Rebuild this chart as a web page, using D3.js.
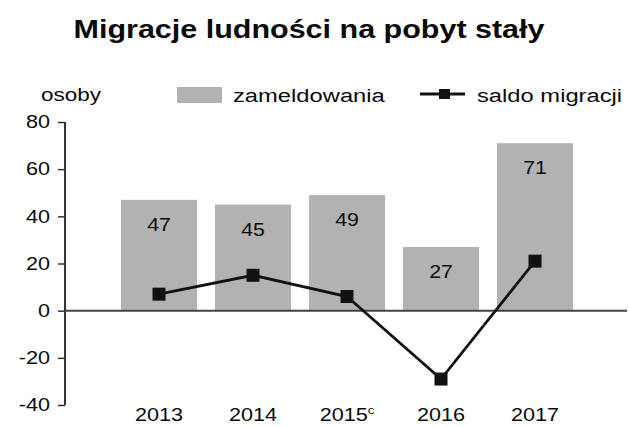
<!DOCTYPE html>
<html>
<head>
<meta charset="utf-8">
<script src="https://cdn.jsdelivr.net/npm/d3@7"></script>
<style>
  body { margin: 0; background: #fff; }
  text { font-family: "Liberation Sans", Arial, sans-serif; fill: #0a0a0a; }
</style>
</head>
<body>
<div id="chart"></div>
<script>
var years = ["2013", "2014", "2015", "2016", "2017"];
var zameldowania = [47, 45, 49, 27, 71];
var saldo = [7, 15, 6, -29, 21];
var yTicks = [80, 60, 40, 20, 0, -20, -40];

var width = 629, height = 427;
var stretch = 1.2; // the source text is a bit wider than Arial

var svg = d3.select("#chart").append("svg")
  .attr("width", width)
  .attr("height", height)

// text placed in a group so it can be widened a little
function label(px, py, str, size, sx, anchor, weight) {
  var g = svg.append("g")
    .attr("transform", "translate(" + px + "," + py + ") scale(" + sx + ",1)")
  return g.append("text")
    .attr("text-anchor", anchor || "start")
    .attr("font-size", size + "px")
    .attr("font-weight", weight || "normal")
    .text(str)
}

// title
label(309, 38, "Migracje ludności na pobyt stały", 25, 1.22, "middle", "bold")

var x = d3.scaleBand()
  .domain(years)
  .range([112, 582])
  .paddingInner(0.19)
  .paddingOuter(0.095)

var y = d3.scaleLinear()
  .domain([-40, 80])
  .range([405, 122])

// bars
svg.selectAll("rect.bar")
  .data(zameldowania)
  .enter()
  .append("rect")
    .attr("class", "bar")
    .attr("x", function(d, i){ return x(years[i]); })
    .attr("y", function(d){ return y(d); })
    .attr("width", x.bandwidth())
    .attr("height", function(d){ return y(0) - y(d); })
    .attr("fill", "#b2b2b2")

// bar labels
zameldowania.forEach(function(d, i) {
  label(x(years[i]) + x.bandwidth() / 2, y(d) + 31, d, 19, 1.12, "middle")
})

// y axis
var yAxis = d3.axisLeft(y)
  .tickValues(yTicks)
  .tickSize(7)
  .tickPadding(8)
  .tickFormat(function(d){ return String(d); })
var gy = svg.append("g")
  .attr("transform", "translate(65,0)")
  .call(yAxis)
gy.select(".domain").attr("stroke", "#333").attr("stroke-width", 2).attr("d", "M0," + y(80) + "V" + y(-40))
gy.selectAll(".tick line").attr("stroke", "#333").attr("stroke-width", 1.5)
gy.selectAll(".tick text")
  .attr("font-size", "18px")
  .attr("font-family", "Liberation Sans, Arial, sans-serif")
  .attr("fill", "#0a0a0a")
  .attr("x", -15 / stretch)
  .attr("transform", "scale(" + stretch + ",1)")

// zero line
svg.append("line")
  .attr("x1", 65)
  .attr("x2", 627)
  .attr("y1", y(0))
  .attr("y2", y(0))
  .attr("stroke", "#444")
  .attr("stroke-width", 2)

// x labels
years.forEach(function(d) {
  var t = label(x(d) + x.bandwidth() / 2, 421, d, 18, stretch, "middle")
  if (d === "2015") {
    t.append("tspan")
      .attr("dy", -7)
      .attr("font-size", "11px")
      .text("c")
  }
})

// saldo line
var line = d3.line()
  .x(function(d, i){ return x(years[i]) + x.bandwidth() / 2; })
  .y(function(d){ return y(d); })

svg.append("path")
  .datum(saldo)
  .attr("d", line)
  .attr("fill", "none")
  .attr("stroke", "#111")
  .attr("stroke-width", 2.8)

svg.selectAll("rect.marker")
  .data(saldo)
  .enter()
  .append("rect")
    .attr("class", "marker")
    .attr("x", function(d, i){ return x(years[i]) + x.bandwidth() / 2 - 6.5; })
    .attr("y", function(d){ return y(d) - 6.5; })
    .attr("width", 13)
    .attr("height", 13)
    .attr("fill", "#111")

// unit label
label(41, 101, "osoby", 18, 1.25)

// legend
svg.append("rect")
  .attr("x", 177)
  .attr("y", 87)
  .attr("width", 45)
  .attr("height", 16)
  .attr("fill", "#b2b2b2")
label(233, 102, "zameldowania", 18, 1.32)

svg.append("line")
  .attr("x1", 420)
  .attr("x2", 465)
  .attr("y1", 94)
  .attr("y2", 94)
  .attr("stroke", "#111")
  .attr("stroke-width", 2.8)
svg.append("rect")
  .attr("x", 439)
  .attr("y", 89)
  .attr("width", 11)
  .attr("height", 10)
  .attr("fill", "#111")
label(477, 102, "saldo migracji", 18, 1.32)
</script>
</body>
</html>
